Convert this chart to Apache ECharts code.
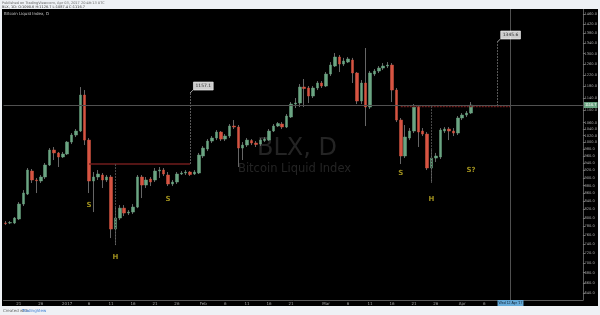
<!DOCTYPE html>
<html><head><meta charset="utf-8">
<script src="https://cdn.jsdelivr.net/npm/echarts@6/dist/echarts.min.js"></script>
<style>html,body{margin:0;padding:0;background:#eef1f5}#c{width:600px;height:315px}</style>
</head><body><div id="c"></div>
<script>
// ---- categories: daily, 2016-12-18 .. 2017-04-28 (empty days at the right)
const startDate = [2016, 11, 18];
const dayCount = 132;
const categories = [];
for (let i = 0; i < dayCount; i++) {
  categories.push(new Date(Date.UTC(startDate[0], startDate[1], startDate[2] + i)).toISOString().slice(0, 10));
}
// ---- OHLC (Dec 18 2016 .. Apr 3 2017)
const opens = [787.7,787.7,787.7,797.1,833.2,858.2,918.7,894.6,892.0,902.6,935.2,977.5,969.2,957.6,
966.1,1000.9,1021.9,1034.1,1150.3,1006.8,892.0,902.6,907.9,894.6,902.6,773.8,799.4,823.2,811.3,813.7,825.8,902.6,881.4,897.3,894.6,918.7,921.4,907.9,884.1,889.3,910.6,913.3,916.0,910.6,913.3,
960.4,980.4,1003.9,1012.9,1031.0,1009.8,1018.9,1049.5,1046.4,983.3,992.1,1005.3,998.0,995.0,1005.3,1006.8,1034.1,1049.5,1055.7,1046.4,1077.8,1120.0,1123.4,1177.8,1174.4,1146.9,1174.4,1191.9,
1181.3,1224.0,1253.3,1287.2,1260.7,1268.2,1275.7,1227.7,1130.1,1191.9,1110.1,1224.0,1234.9,1245.9,1253.3,1257.0,1167.4,1068.3,960.4,1012.9,1034.1,1110.1,1034.1,1024.9,926.9,954.7,957.6,1034.1,1040.2,1034.1,1028.0,
1074.7,1084.2,1090.6];
const closes = [786.5,788.9,799.4,833.2,860.8,921.4,894.6,892.8,902.6,935.2,977.5,969.2,957.6,966.1,
1000.9,1021.9,1034.1,1150.3,1006.8,892.0,902.6,910.6,894.6,902.6,773.8,799.4,823.2,811.3,813.7,825.8,902.6,881.4,894.6,889.3,918.7,921.4,910.6,884.1,889.3,910.6,913.3,916.0,909.2,916.0,963.2,
983.3,1003.9,1012.9,1031.0,1009.8,1018.9,1049.5,1046.4,983.3,992.1,1006.8,998.0,993.6,1006.8,1009.8,1034.1,1049.5,1057.3,1046.4,1081.0,1120.0,1123.4,1177.8,1172.6,1146.9,1174.4,1191.9,1181.3,
1224.0,1257.0,1287.2,1260.7,1272.0,1279.8,1227.7,1130.1,1191.9,1110.1,1227.7,1234.9,1245.9,1253.3,1257.0,1167.4,1068.3,960.4,1015.9,1034.1,1110.1,1031.0,1024.9,926.9,954.7,960.4,1037.1,1040.2,1034.1,1028.0,1074.7,
1084.2,1090.6,1116.7];
const lows = [783.0,785.3,785.3,794.7,828.3,855.7,886.7,860.8,886.7,897.3,932.4,949.1,929.7,954.7,
963.2,995.0,1015.9,1031.0,992.1,860.8,813.7,894.6,873.6,889.3,753.5,738.0,794.7,804.1,806.5,808.9,823.2,848.1,873.6,878.8,889.3,900.0,905.2,878.8,878.8,884.1,907.9,907.9,905.2,907.9,910.6,
954.7,974.6,998.0,1006.8,1003.9,1003.9,1012.9,1040.2,929.7,949.1,986.3,992.1,986.3,989.2,1000.9,1003.9,1031.0,1046.4,1040.2,1043.3,1074.7,1106.9,1110.1,1110.1,1123.4,1140.2,1167.4,1174.4,
1177.8,1216.8,1249.6,1231.3,1253.3,1264.5,1191.9,1120.0,1120.0,1049.5,1103.6,1216.8,1227.7,1238.6,1245.9,1126.7,1062.0,937.9,954.7,1006.8,1028.0,986.3,1018.9,921.4,886.7,943.5,951.9,1028.0,1006.8,1018.9,1021.9,
1068.3,1077.8,1087.4];
const highs = [792.4,792.4,801.8,838.1,868.4,926.9,924.2,900.0,907.9,940.8,983.3,986.3,972.0,972.0,
1003.9,1028.0,1040.2,1177.8,1167.4,1012.9,916.0,921.4,913.3,907.9,907.9,825.8,830.7,830.7,818.5,833.2,907.9,907.9,902.6,902.6,926.9,929.7,926.9,916.0,894.6,916.0,918.7,921.4,918.7,921.4,969.2,
989.2,1009.8,1018.9,1037.1,1034.1,1024.9,1055.7,1068.3,1052.6,1000.9,1012.9,1009.8,1003.9,1012.9,1015.9,1040.2,1055.7,1062.0,1062.0,1087.4,1126.7,1140.2,1188.3,1206.1,1181.3,1181.3,1199.0,1199.0,
1231.3,1268.2,1302.5,1294.8,1283.9,1287.2,1283.9,1231.3,1202.5,1322.0,1234.9,1242.3,1253.3,1264.5,1268.2,1264.5,1174.4,1074.7,1052.6,1043.3,1120.0,1116.7,1043.3,1031.0,977.5,969.2,1043.3,1046.4,1046.4,1043.3,1081.0,
1090.6,1097.1,1126.7];
// ---- price axis tick labels
const priceTicks = [1460,1420,1380,1340,1300,1260,1220,1180,1140,1100,1060,1040,1020,1000,980,960,940,920,900,880,860,840,820,800,780,760,740,720,700,680,660,640];
// ---- time axis tick labels
const xTickDates = ['2016-12-21','2016-12-26','2017-01-01','2017-01-06','2017-01-11','2017-01-16','2017-01-21','2017-01-26','2017-02-01','2017-02-06','2017-02-11','2017-02-16','2017-02-21','2017-03-01','2017-03-06','2017-03-11','2017-03-16','2017-03-21','2017-03-26','2017-04-01','2017-04-06'];
const xTickTexts = ['21','26','2017','6','11','16','21','26','Feb','6','11','16','21','Mar','6','11','16','21','26','Apr','6'];
// ---- pattern annotations
const patternTexts = ['S','H','S','S','H','S?'];
const patternDates = ['2017-01-06','2017-01-12','2017-01-24','2017-03-18','2017-03-25','2017-04-03'];
const patternPrices = [830.7,712.2,845.6,913.3,845.6,921.4];
const necklinePrices = [937.9,1113.4];
const necklineStart = ['2017-01-06','2017-03-18'];
const necklineEnd = ['2017-01-29','2017-04-12'];
const headDates = ['2017-01-12','2017-03-25'];
const headLows = [738.0,886.7];
const targetDates = ['2017-01-29','2017-04-09'];
const targetPrices = [1157.1,1345.6];
const crossDate = '2017-04-12';
const crossDateText = "Wed 12 Apr '17";
const priceRange = [627.3,1483.7];

const lastClose = closes[closes.length-1];
const wickData = opens.map((o,i)=>[o,closes[i],lows[i],highs[i]]);
const bodyData = opens.map((o,i)=>[o,closes[i],Math.min(o,closes[i]),Math.max(o,closes[i])]);
const tickMap = {}; xTickDates.forEach((d,i)=>tickMap[d]=xTickTexts[i]);

const chart = echarts.init(document.getElementById('c'), null, {renderer:'canvas'});
const ml = [];
for (let k=0;k<2;k++){
  ml.push([{coord:[necklineStart[k],necklinePrices[k]], lineStyle:{color:'#701c1c',width:k===0?1.6:1.4,type:k===0?'solid':[2,1]}},{coord:[necklineEnd[k],necklinePrices[k]]}]);
  ml.push([{coord:[headDates[k],necklinePrices[k]], lineStyle:{color:'#4a4a4a',width:1,type:[2,1]}},{coord:[headDates[k],headLows[k]]}]);
  ml.push([{coord:[targetDates[k],necklinePrices[k]], lineStyle:{color:'#5a5a5a',width:1,type:[2,1]}},{coord:[targetDates[k],targetPrices[k]]}]);
}
ml.push({yAxis:lastClose, lineStyle:{color:'#505050',width:1,type:'solid'},
  label:{show:true,position:'end',distance:1,formatter:lastClose.toFixed(1),backgroundColor:'#6ba583',color:'#fff',fontSize:4,padding:[1,1]}});
ml.push({xAxis:crossDate, lineStyle:{color:'#505050',width:1,type:'solid'},
  label:{show:true,position:'start',distance:0,formatter:crossDateText,backgroundColor:'#63a8d6',color:'#123',fontSize:3.5,padding:[1,1]}});

chart.setOption({
  animation:false,
  backgroundColor:'#000',
  grid:{left:3.5,right:11.7,top:9,bottom:15},
  xAxis:{type:'category',data:categories,boundaryGap:true,
    axisLine:{show:true,lineStyle:{color:'#5a5a5a',width:1}},
    axisTick:{show:false},
    axisLabel:{interval:(i,v)=>tickMap[v]!==undefined,formatter:v=>tickMap[v]||'',color:'#a0a0a0',fontSize:4,margin:2,fontFamily:'DejaVu Sans'},
    splitLine:{show:false}},
  yAxis:{type:'log',logBase:10,position:'right',min:priceRange[0],max:priceRange[1],
    axisLine:{show:true,lineStyle:{color:'#5a5a5a',width:1}},
    axisTick:{show:true,length:2,lineStyle:{color:'#777'},customValues:priceTicks},
    axisLabel:{customValues:priceTicks,formatter:v=>Number(v).toFixed(1),color:'#a8a8a8',fontSize:3.6,margin:1.5,fontFamily:'DejaVu Sans'},
    splitLine:{show:false}},
  graphic:[
    {type:'text',left:257,top:137,z:0,style:{text:'BLX, D',fill:'#242424',font:'24px "DejaVu Sans"'}},
    {type:'text',left:238,top:163,z:0,style:{text:'Bitcoin Liquid Index',fill:'#242424',font:'11.5px "DejaVu Sans"'}},
    {type:'rect',z:10,shape:{x:0,y:0,width:600,height:9},style:{fill:'#eef1f5'}},
    {type:'rect',z:10,shape:{x:0,y:306,width:600,height:9},style:{fill:'#eef1f5'}},
    {type:'rect',z:10,shape:{x:0,y:0,width:2,height:315},style:{fill:'#eef1f5'}},
    {type:'rect',z:10,shape:{x:598,y:0,width:2,height:315},style:{fill:'#eef1f5'}},
    {type:'text',z:11,left:2,top:1,style:{text:'Published on TradingView.com, Apr 03, 2017 20:49:13 UTC',fill:'#666',font:'3.5px "DejaVu Sans"'}},
    {type:'text',z:11,left:2,top:5,style:{text:'BLX, 1D: O:1090.6 H:1126.7 L:1087.4 C:1116.7',fill:'#333',font:'3.5px "DejaVu Sans"'}},
    {type:'text',z:11,left:4,top:12,style:{text:'Bitcoin Liquid Index, D',fill:'#c8c8c8',font:'4px "DejaVu Sans"'}},
    {type:'text',z:11,left:3,top:309,style:{text:'Created with',fill:'#666',font:'4px "DejaVu Sans"'}},
    {type:'text',z:11,left:22,top:309,style:{text:'TradingView',fill:'#3a7bd5',font:'4px "DejaVu Sans"'}}
  ],
  series:[
    {type:'candlestick',name:'wick',data:wickData,barWidth:1,
      itemStyle:{color:'#666',color0:'#666',borderColor:'#666',borderColor0:'#666',borderWidth:1}},
    {type:'candlestick',name:'BLX',data:bodyData,barWidth:3,
      itemStyle:{color:'#6ba583',color0:'#d75442',borderColor:'#6ba583',borderColor0:'#d75442',borderWidth:0.5},
      markLine:{silent:true,symbol:['none','none'],label:{show:false},data:ml}},
    {type:'scatter',name:'pattern',symbolSize:1,z:5,itemStyle:{color:'rgba(0,0,0,0)'},
      data:patternDates.map((d,i)=>({value:[d,patternPrices[i]],name:patternTexts[i]})),
      label:{show:true,position:'inside',formatter:p=>p.name,color:'#c4b224',fontSize:7,fontWeight:'bold',fontFamily:'DejaVu Sans'}},
    {type:'scatter',name:'target',z:5,symbol:'path://M0,10L10,0',symbolSize:[3,3],symbolOffset:[1.5,-1.5],
      itemStyle:{color:'rgba(0,0,0,0)',borderColor:'#fff',borderWidth:0.8},
      data:targetDates.map((d,i)=>[d,targetPrices[i]]),
      label:{show:true,position:'right',distance:0,offset:[0,-5.5],formatter:p=>p.value[1].toFixed(1),backgroundColor:'#fff',borderColor:'#bbb',borderWidth:0.5,color:'#000',fontSize:4.5,padding:[1.5,2],fontFamily:'DejaVu Sans'}}
  ]
});
</script></body></html>
